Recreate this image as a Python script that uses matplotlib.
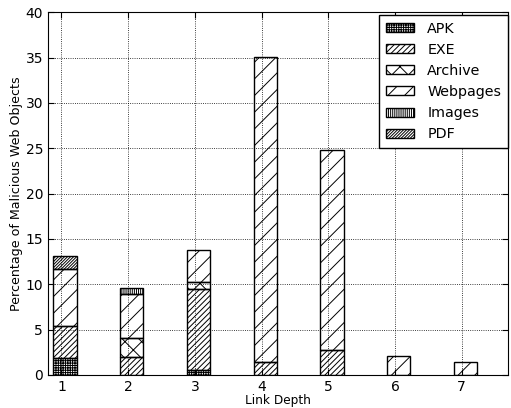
import matplotlib
matplotlib.use("Agg")
import matplotlib.pyplot as plt
from matplotlib.patches import Patch
import numpy as np

depths = [1, 2, 3, 4, 5, 6, 7]
categories = ["APK", "EXE", "Archive", "Webpages", "Images", "PDF"]
apk      = [1.9, 0.0, 0.6, 0.0, 0.0, 0.0, 0.0]
exe      = [3.5, 2.0, 8.9, 1.4, 2.75, 0.0, 0.0]
archive  = [0.0, 2.05, 0.8, 0.0, 0.0, 0.0, 0.0]
webpages = [6.25, 4.85, 3.5, 33.7, 22.05, 2.1, 1.4]
images   = [0.0, 0.7, 0.0, 0.0, 0.0, 0.0, 0.0]
pdf      = [1.45, 0.0, 0.0, 0.0, 0.0, 0.0, 0.0]

series = [apk, exe, archive, webpages, images, pdf]
hatches = ["+++++++", "//////", "xx", "//", "||||||||", "///////////"]

plt.rcParams.update({
    "font.family": "DejaVu Sans",
    "xtick.direction": "in", "ytick.direction": "in",
    "xtick.top": True, "ytick.right": True,
    "hatch.linewidth": 0.7,
})

fig = plt.figure(figsize=(5.11, 4.08), dpi=100)
ax = fig.add_axes([0.094, 0.081, 0.901, 0.889])

x = np.array(depths, dtype=float)
bottom = np.zeros(len(depths))
for name, vals, h in zip(categories, series, hatches):
    v = np.array(vals)
    mask = v > 0
    ax.bar(x[mask] - 0.12, v[mask], width=0.35, bottom=bottom[mask], align="edge",
           facecolor="none", edgecolor="black", linewidth=1.0, hatch=h, zorder=3)
    bottom = bottom + v

leg_handles = [Patch(facecolor="white", edgecolor="black", hatch=h, linewidth=1.0)
               for h in hatches]
leg = ax.legend(leg_handles, categories, loc="upper right", fontsize=10.3,
                bbox_to_anchor=(0.9987, 0.9926), borderaxespad=0,
                frameon=True, fancybox=False, framealpha=1, edgecolor="black",
                handlelength=1.95, handleheight=0.6, handletextpad=0.95,
                labelspacing=0.5, borderpad=0.46)
leg.get_frame().set_linewidth(1.0)
leg.set_zorder(5)

ax.set_xlim(0.8, 7.7)
ax.set_ylim(0, 40)
ax.set_xticks(depths)
ax.set_yticks(np.arange(0, 41, 5))
ax.tick_params(labelsize=10, length=4)
ax.grid(True, linestyle=":", color="black", linewidth=0.6, zorder=0)
ax.set_axisbelow(True)
ax.set_xlabel("Link Depth", fontsize=8.7, labelpad=0)
ax.set_ylabel("Percentage of Malicious Web Objects", fontsize=9.1, labelpad=2)

fig.savefig("out.png", dpi=100)
